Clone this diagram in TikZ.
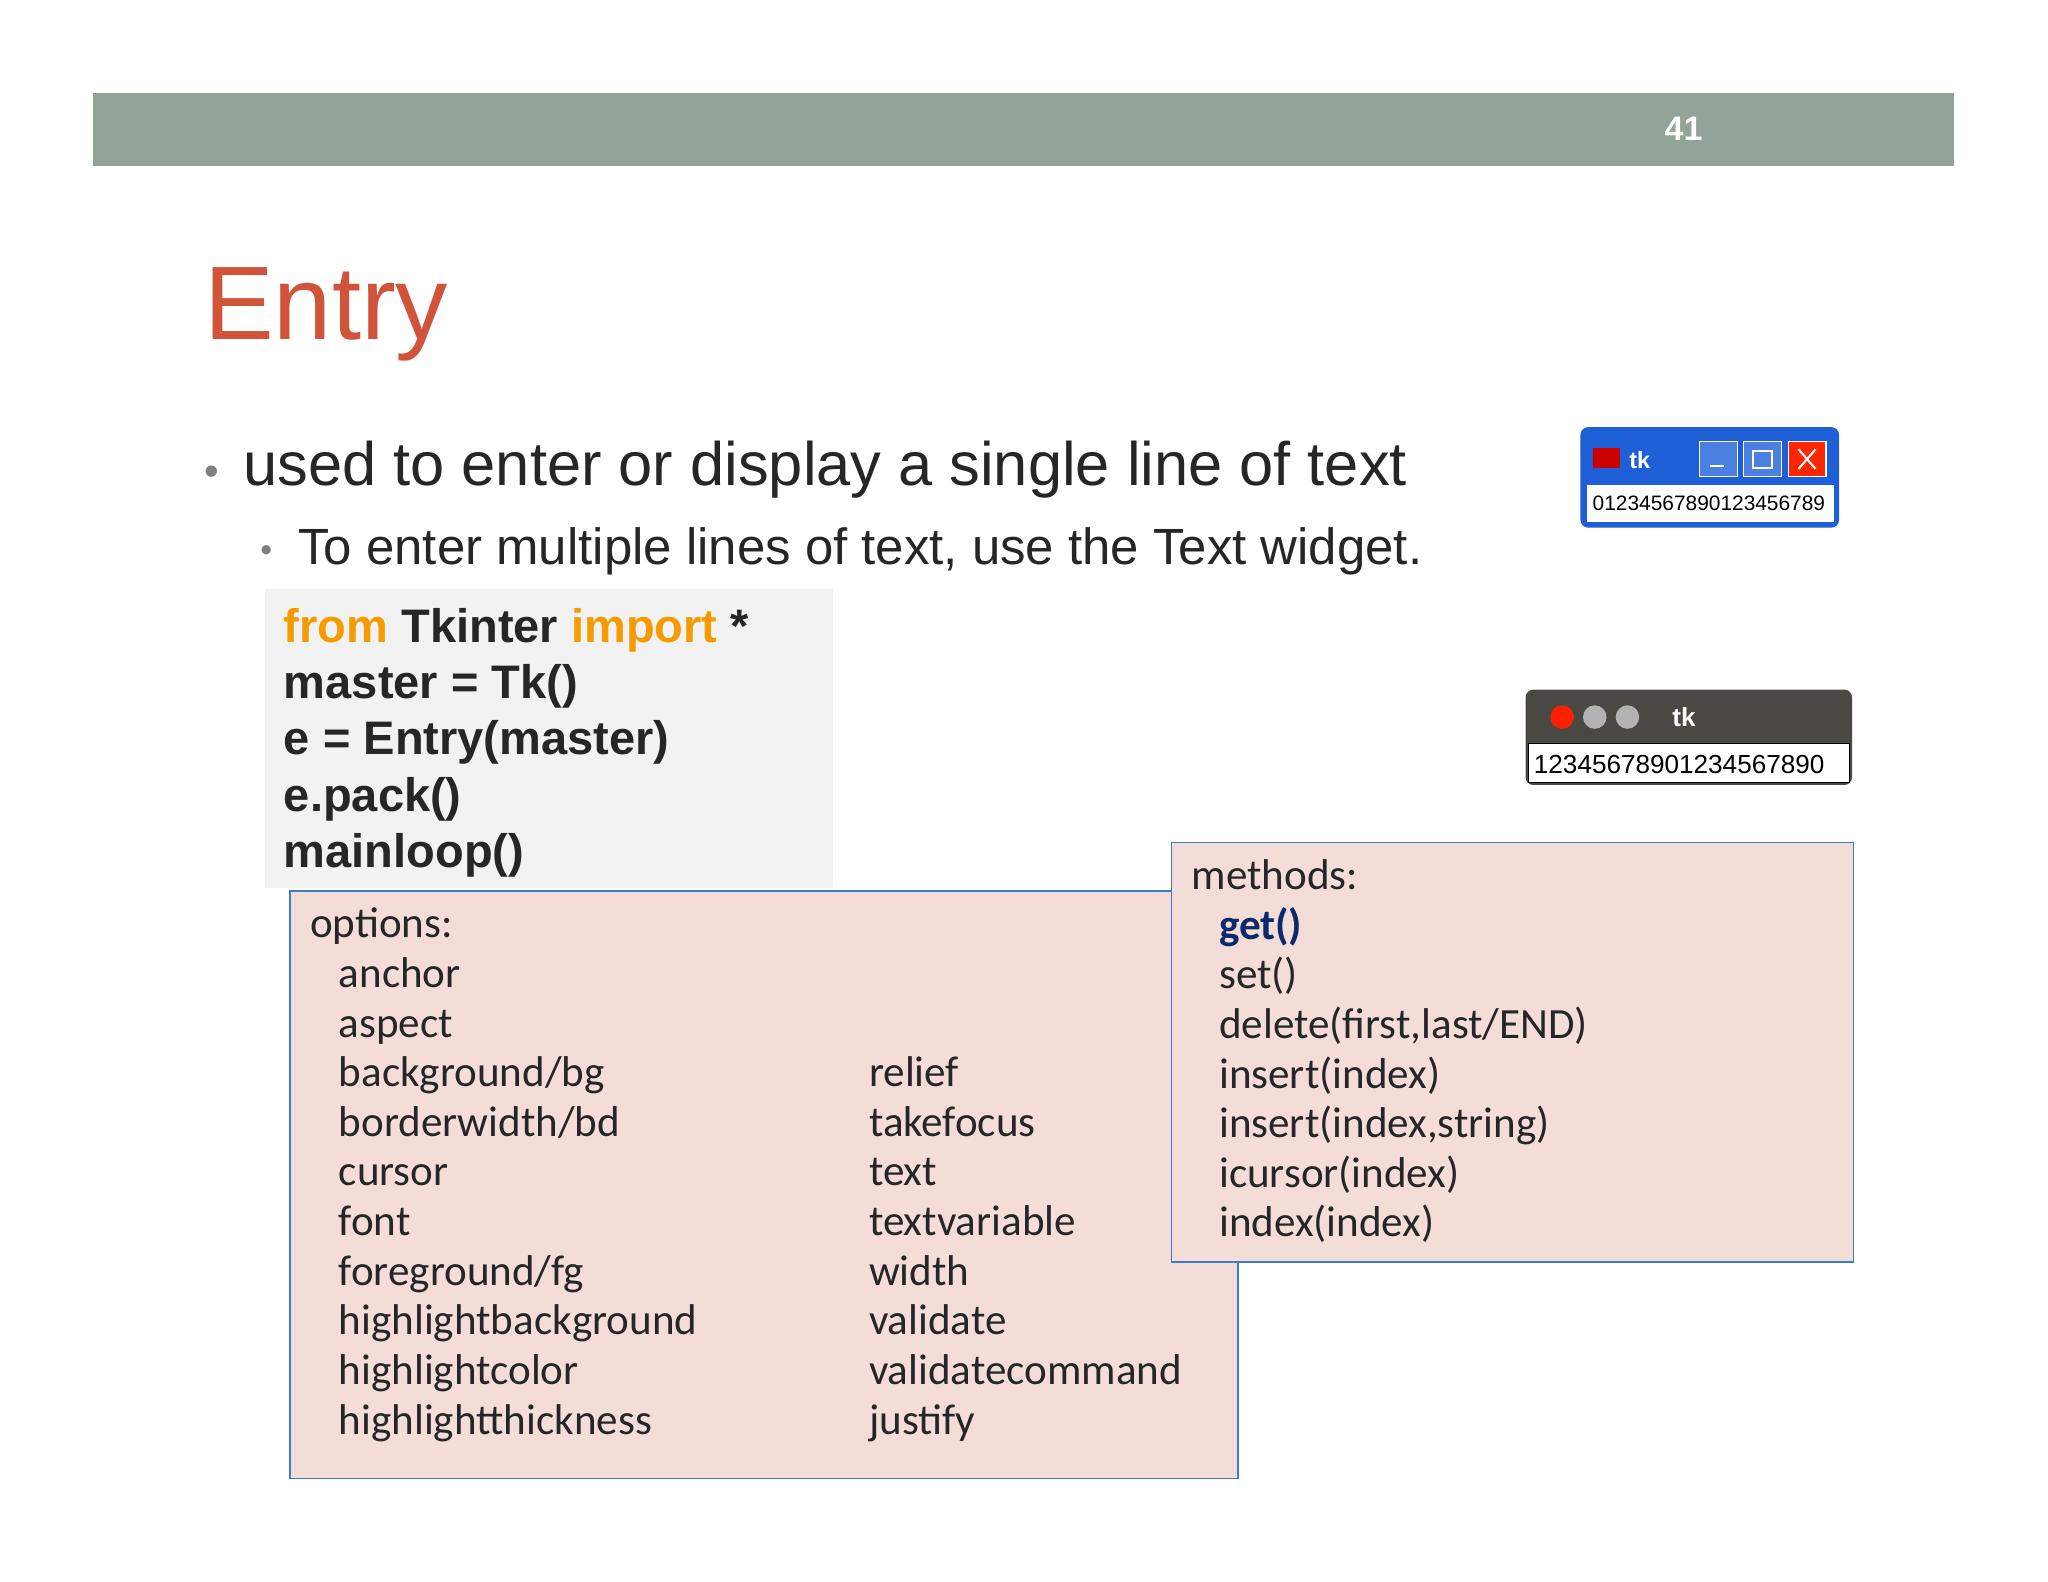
\documentclass[tikz,border=0pt]{standalone}
\usepackage{fontspec}
\setmainfont{Liberation Sans}
\newfontfamily\calfnt{Carlito}
\definecolor{bar}{HTML}{92A498}
\definecolor{ttl}{HTML}{D0533A}
\definecolor{orng}{HTML}{F59B00}
\definecolor{pink}{HTML}{F4DDD8}
\definecolor{bord}{HTML}{3A7DC9}
\definecolor{navy}{HTML}{0B2A6B}
\definecolor{codebg}{HTML}{F2F2F2}
\definecolor{winblue}{HTML}{1E5FD8}
\definecolor{wingray}{HTML}{4A4843}
\tikzset{
 code/.style={anchor=base west,inner sep=0,font=\fontsize{18}{20}\selectfont\bfseries,text=black!85},
 opt/.style={anchor=base west,inner sep=0,font=\calfnt\fontsize{16.5}{18}\selectfont,text=black!85},
 panel/.style={fill=pink,draw=bord,line width=0.6pt}
}
\begin{document}
\begin{tikzpicture}[x=0.5pt,y=-0.5pt]
\useasboundingbox (0,0) rectangle (1568,1211);
\fill[white] (0,0) rectangle (1568,1211);
\fill[bar] (71,71) rectangle (1496,127);
\node[anchor=center,text=white,font=\fontsize{13}{14}\selectfont\bfseries] (num) at (1289,99) {41};
\node[anchor=base west,inner sep=0,text=ttl,font=\fontsize{40}{44}\selectfont] (title) at (156,260) {Entry};
\node[anchor=base west,inner sep=0,text=gray,font=\fontsize{16}{18}\selectfont] (b1) at (156,372) {•};
\node[anchor=base west,inner sep=0,text=black!85,font=\fontsize{23.5}{26}\selectfont] (t1) at (186,372) {used to enter or display a single line of text};
\node[anchor=base west,inner sep=0,text=gray,font=\fontsize{13}{14}\selectfont] (b2) at (199,430) {•};
\node[anchor=base west,inner sep=0,text=black!85,font=\fontsize{19.5}{22}\selectfont] (t2) at (228,432) {To enter multiple lines of text, use the Text widget.};
% code
\fill[codebg] (203,451) rectangle (638,680);
\node[code] (c1) at (217,492) {\textcolor{orng}{from} Tkinter \textcolor{orng}{import} *};
\node[code] (c2) at (217,535) {master = Tk()};
\node[code] (c3) at (217,578) {e = Entry(master)};
\node[code] (c4) at (217,621) {e.pack()};
\node[code] (c5) at (217,664) {mainloop()};
% options
\draw[panel] (222,682) rectangle (948,1132);
\node[opt] (o0) at (237,718) {options:};
\foreach \t [count=\i] in {anchor,aspect,background/bg,borderwidth/bd,cursor,font,foreground/fg,highlightbackground,highlightcolor,highlightthickness}
  \node[opt] (ol\i) at (259,718+38*\i) {\t};
\foreach \t [count=\i] in {relief,takefocus,text,textvariable,width,validate,validatecommand,justify}
  \node[opt] (or\i) at (665,832+38*\i-38) {\t};
% methods
\draw[panel] (897,645) rectangle (1419,966);
\node[opt] (m0) at (912,681) {methods:};
\node[opt,text=navy,font=\calfnt\bfseries\fontsize{16.5}{18}\selectfont] (m1) at (933,719) {get()};
\foreach \t [count=\i from 2] in {set(),{delete(first,last/END)},insert(index),{insert(index,string)},icursor(index),index(index)}
  \node[opt] (m\i) at (933,719+38*\i-38) {\t};
% window 1
\fill[winblue,rounded corners=3pt] (1210,327) rectangle (1408,404);
\fill[white] (1215,371) rectangle (1404,400);
\fill[red!80!black] (1220,343) rectangle (1240,358);
\node[anchor=west,text=white,inner sep=0,font=\fontsize{9}{10}\selectfont\bfseries] (w1t) at (1247,352) {tk};
\draw[white,fill=winblue!80] (1301,338) rectangle (1330,365);
\draw[white,fill=winblue!80] (1335,338) rectangle (1364,365);
\draw[white,fill=red!70!orange] (1369,338) rectangle (1398,365);
\draw[white,thick] (1309,357)--(1320,357);
\draw[white,thick] (1342,345) rectangle (1357,358);
\draw[white,thick] (1377,344)--(1390,359) (1390,344)--(1377,359);
\node[anchor=west,inner sep=0,font=\fontsize{8}{9}\selectfont] (w1e) at (1219,385) {0123456789012345678\rlap{9}};
% window 2
\fill[wingray,rounded corners=3pt] (1168,528) rectangle (1418,601);
\fill[white] (1170,569) rectangle (1416,599);
\draw[black] (1170,569) rectangle (1416,599);
\fill[red!75!orange] (1196,549) circle (9);
\fill[gray!60] (1221,549) circle (9);
\fill[gray!60] (1246,549) circle (9);
\node[anchor=west,text=white!85,inner sep=0,font=\fontsize{10}{11}\selectfont\bfseries] (w2t) at (1280,549) {tk};
\node[anchor=west,inner sep=0,font=\fontsize{10}{11}\selectfont] (w2e) at (1174,585) {1234567890123456789\rlap{0}};
\end{tikzpicture}
\end{document}
